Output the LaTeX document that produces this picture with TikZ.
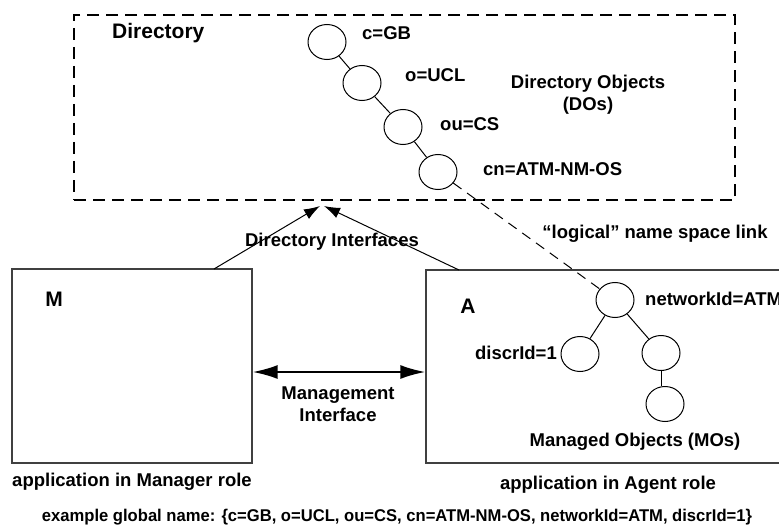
\documentclass[tikz,border=0pt]{standalone}
\usepackage{fontspec}
\usepackage{graphicx}
\setmainfont{Liberation Sans}
\usetikzlibrary{shapes.geometric,arrows.meta}

\begin{document}
\begin{tikzpicture}[x=1pt,y=-1pt,
  lbl/.style={font=\fontsize{18.5}{22}\selectfont\bfseries, inner sep=0pt, text height=0.72em, text depth=0pt},
  mlbl/.style={font=\fontsize{18.5}{22}\selectfont\bfseries, inner sep=0pt, align=center},
  big/.style={font=\fontsize{21}{24}\selectfont\bfseries, inner sep=0pt, text height=0.72em, text depth=0pt},
  obj/.style={ellipse, draw, line width=1pt, minimum width=38pt, minimum height=35pt, inner sep=0pt},
  app/.style={draw=black!75, line width=1.3pt, rectangle, inner sep=0pt},
  dirbox/.style={draw, line width=2pt, dash pattern=on 12pt off 7pt, rectangle, inner sep=0pt},
  tree/.style={line width=1pt},
  iface/.style={line width=1pt, -{Latex[length=16pt,width=11pt]}},
  mgmt/.style={line width=2pt, {Latex[length=25pt,width=14pt]}-{Latex[length=25pt,width=14pt]}},
  namelink/.style={line width=1pt, dash pattern=on 10pt off 7pt}
]
\useasboundingbox (0,0) rectangle (779,532);

% directory and the two applications
\node[dirbox, minimum width=661pt, minimum height=185pt] (dir) at (404.5,107.5) {};
\node[app, minimum width=240pt, minimum height=194pt] (M) at (132,366) {};
\node[app, minimum width=374pt, minimum height=193pt] (A) at (613,366.5) {};

\node[big, anchor=west] (dirlbl) at (112,35) {Directory};
\node[big] (mlab) at (54,303) {M};
\node[big] (alab) at (468,310) {A};

% directory information tree
\node[obj] (c) at (327,42) {};
\node[obj] (o) at (362,83) {};
\node[obj] (ou) at (403,127) {};
\node[obj] (cn) at (438,172) {};
\draw[tree] (c) -- (o) (o) -- (ou) (ou) -- (cn);

\node[lbl, anchor=west] (clbl) at (362,36) {c=GB};
\node[lbl, anchor=west] (olbl) at (405,78) {o=UCL};
\node[lbl, anchor=west] (oulbl) at (440,127) {ou=CS};
\node[lbl, anchor=west] (cnlbl) at (483,172) {cn=ATM-NM-OS};
\node[mlbl] (dos) at (588,95) {Directory Objects\\(DOs)};

% managed object tree
\node[obj] (net) at (615,300) {};
\node[obj] (disc) at (580,354) {};
\node[obj] (mo2) at (661,353) {};
\node[obj] (mo3) at (665,404) {};
\draw[tree] (net) -- (disc) (net) -- (mo2);
\draw[tree] (mo2.south) -- (mo2.south |- mo3.north);

\node[lbl, anchor=west] (netlbl) at (645,302) {networkId=ATM};
\node[lbl, anchor=east] (disclbl) at (557,356) {discrId=1};
\node[lbl] (mos) at (635,443) {Managed Objects (MOs)};

% logical link between the two name spaces
\draw[namelink] (cn) -- (net);
\node[lbl] (linklbl) at (655,235) {“logical” name space link};

% directory interfaces
\coordinate (mup) at (214,269);
\coordinate (aup) at (459,270);
\coordinate (dport1) at (320,206);
\coordinate (dport2) at (324,206);
\draw[iface] (mup) -- (dport1);
\draw[iface] (aup) -- (dport2);
\node[lbl] (diflbl) at (332,243) {Directory Interfaces};

% management interface
\draw[mgmt] ([yshift=-6pt]M.east) -- ([yshift=-5.5pt]A.west);
\node[mlbl] (mglbl) at (338,404) {Management\\Interface};

% captions
\node[lbl] (mcap) at (132,483) {application in Manager role};
\node[lbl] (acap) at (608,486) {application in Agent role};
\node[inner sep=0pt] (example) at (397,517) {\resizebox{710pt}{\height}{\fontsize{17}{20}\selectfont\bfseries example global name: \{c=GB, o=UCL, ou=CS, cn=ATM-NM-OS, networkId=ATM, discrId=1\}}};
\end{tikzpicture}
\end{document}
